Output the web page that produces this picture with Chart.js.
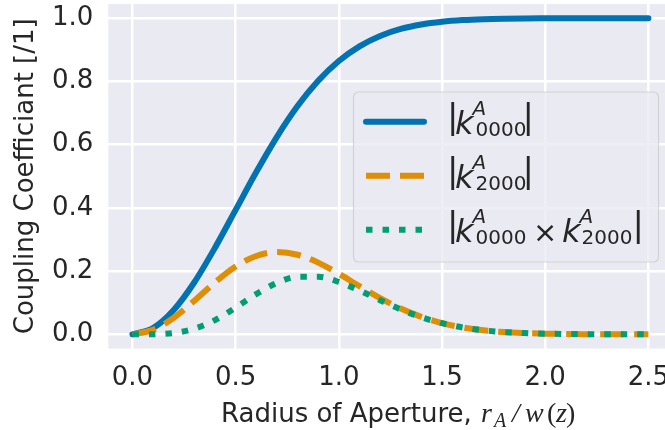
<!DOCTYPE html>
<html>
<head>
<meta charset="utf-8">
<script src="https://cdn.jsdelivr.net/npm/chart.js@4.4.0/dist/chart.umd.min.js"></script>
<style>
  body { margin: 0; background: #fff; }
  #wrap { width: 665px; height: 430px; overflow: hidden; }
</style>
</head>
<body>
<div id="wrap"><canvas id="cChart" width="675" height="430"></canvas></div>
<script>
// radius of aperture r_A / w(z)
const radius = [0.0, 0.1, 0.2, 0.3, 0.4, 0.5, 0.6, 0.7, 0.8, 0.9, 1.0, 1.1, 1.2,
    1.3, 1.4, 1.5, 1.6, 1.7, 1.8, 1.9, 2.0, 2.1, 2.2, 2.3, 2.4, 2.5];
const k0000 = [0, 0.0198, 0.0769, 0.1647, 0.2739, 0.3935, 0.5132, 0.6247, 0.7220,
    0.8021, 0.8647, 0.9111, 0.9439, 0.9660, 0.9802, 0.9889, 0.9940, 0.9969, 0.9985,
    0.9993, 0.9997, 0.9999, 0.9999, 1.0, 1.0, 1.0];
const k2000 = [0, 0.0139, 0.0522, 0.1063, 0.1643, 0.2144, 0.2478, 0.2601, 0.2517,
    0.2267, 0.1914, 0.1522, 0.1143, 0.0814, 0.0550, 0.0354, 0.0216, 0.0126, 0.0070,
    0.0037, 0.0019, 0.0009, 0.0004, 0.0002, 0.0001, 0.0];
const kProduct = [0, 0.0003, 0.0040, 0.0175, 0.0450, 0.0844, 0.1272, 0.1625, 0.1817,
    0.1818, 0.1655, 0.1386, 0.1079, 0.0786, 0.0539, 0.0350, 0.0215, 0.0126, 0.0070,
    0.0037, 0.0019, 0.0009, 0.0004, 0.0002, 0.0001, 0.0];

const BLUE = '#0173b2', ORANGE = '#de8f05', GREEN = '#029e73';
const TEXT = '#262626';
const SANS = 'DejaVu Sans';

function pts(ys) {
    return radius.map((x, i) => ({x: x, y: ys[i]}));
}

// pieces of mathtext: [text, x, dy, font]
function drawPieces(ctx, pieces, y) {
    ctx.fillStyle = TEXT;
    ctx.textBaseline = 'alphabetic';
    ctx.textAlign = 'left';
    pieces.forEach(p => {
        ctx.font = p[3];
        ctx.fillText(p[0], p[1], y + p[2]);
    });
}

const bar = '34px ' + SANS;
const big = '29px ' + SANS, bigIt = 'oblique 32px ' + SANS;
const sm = '20px ' + SANS, smIt = 'oblique 20px ' + SANS;

const legendRows = [
    {color: BLUE, dash: [], cap: 'round', base: 134, pieces: [
        ['|', 447, -6, bar], ['k', 455, 0, bigIt], ['A', 472.5, -19.3, smIt],
        ['0000', 475.5, 1.5, sm], ['|', 522.5, -6, bar]]},
    {color: ORANGE, dash: [24, 10], cap: 'butt', base: 188, pieces: [
        ['|', 447, -6, bar], ['k', 455, 0, bigIt], ['A', 472.5, -19.3, smIt],
        ['2000', 475.5, 1.5, sm], ['|', 522.5, -6, bar]]},
    {color: GREEN, dash: [6.5, 10], cap: 'butt', base: 242, pieces: [
        ['|', 447, -6, bar], ['k', 455, 0, bigIt], ['A', 472.5, -19.3, smIt],
        ['0000', 475.5, 1.5, sm], ['\u00d7', 533, 0, big], ['k', 562, 0, bigIt],
        ['A', 579.5, -19.3, smIt], ['2000', 581.5, 1.5, sm], ['|', 632.5, -6, bar]]}
];

const extras = {
    id: 'extras',
    afterDraw(chart) {
        const ctx = chart.ctx;
        ctx.save();
        // legend frame
        ctx.beginPath();
        ctx.roundRect(353.5, 92, 305, 170, 5);
        ctx.fillStyle = 'rgba(234,234,242,0.8)';
        ctx.fill();
        ctx.strokeStyle = 'rgba(204,204,204,0.8)';
        ctx.lineWidth = 1.2;
        ctx.stroke();
        legendRows.forEach(r => {
            ctx.beginPath();
            ctx.setLineDash(r.dash);
            ctx.lineCap = r.cap;
            ctx.lineWidth = 6;
            ctx.strokeStyle = r.color;
            ctx.moveTo(366, r.base - 12.3);
            ctx.lineTo(424, r.base - 12.3);
            ctx.stroke();
            ctx.setLineDash([]);
            drawPieces(ctx, r.pieces, r.base);
        });
        // x axis label with math part
        const serifIt = 'italic 28px "Liberation Serif"';
        const serif = '28px "Liberation Serif"';
        drawPieces(ctx, [
            ['Radius of Aperture,', 221, 0, '26px ' + SANS],
            ['r', 481, 0, serifIt], ['A', 494, 5, 'italic 20px "Liberation Serif"'],
            ['/', 512, 0, serifIt], ['w', 525, 0, serifIt],
            ['(', 547, 0, serif], ['z', 556, 0, serifIt],
            [')', 566, 0, serif]], 421.5);
        ctx.restore();
    }
};

const ctx2 = document.getElementById('cChart').getContext('2d');
const cChart = new Chart(ctx2, {
    type: 'line',
    data: {
        datasets: [{
            label: '|k0000|',
            data: pts(k0000),
            borderColor: BLUE,
            borderWidth: 6,
            borderCapStyle: 'round',
            order: 2
        }, {
            label: '|k2000|',
            data: pts(k2000),
            borderColor: ORANGE,
            borderWidth: 6,
            borderDash: [24, 10],
            order: 1
        }, {
            label: '|k0000 x k2000|',
            data: pts(kProduct),
            borderColor: GREEN,
            borderWidth: 6,
            borderDash: [6.5, 10],
            order: 0
        }]
    },
    options: {
        responsive: false,
        animation: false,
        layout: {padding: {top: 4, left: 0, right: 1, bottom: 0}},
        elements: {
            point: {radius: 0},
            line: {cubicInterpolationMode: 'monotone', fill: false}
        },
        plugins: {legend: {display: false}, tooltip: {enabled: false}},
        scales: {
            x: {
                type: 'linear',
                min: -0.117,
                max: 2.624,
                grid: {color: '#ffffff', lineWidth: 2.5, drawTicks: false},
                border: {display: false},
                ticks: {
                    stepSize: 0.5, includeBounds: false, padding: 14,
                    color: TEXT, font: {family: SANS, size: 26},
                    callback: v => v.toFixed(1)
                },
                afterFit: s => { s.height = 81.5; s.paddingLeft = 0; s.paddingRight = 0; }
            },
            y: {
                min: -0.045,
                max: 1.045,
                grid: {color: '#ffffff', lineWidth: 2.5, drawTicks: false},
                border: {display: false},
                ticks: {
                    stepSize: 0.2, includeBounds: false, padding: 15,
                    color: TEXT, font: {family: SANS, size: 26},
                    callback: v => v.toFixed(1)
                },
                title: {
                    display: true, text: 'Coupling Coefficiant [/1]', color: TEXT,
                    font: {family: SANS, size: 26}, padding: {top: 11, bottom: 0}
                },
                afterFit: s => { s.width = 108.3; s.paddingTop = 0; s.paddingBottom = 0; }
            }
        }
    },
    plugins: [{
        id: 'bg',
        beforeDraw(chart) {
            const a = chart.chartArea;
            chart.ctx.save();
            chart.ctx.fillStyle = '#eaeaf2';
            chart.ctx.fillRect(a.left, a.top, a.right - a.left, a.bottom - a.top);
            chart.ctx.restore();
        }
    }, extras]
});
</script>
</body>
</html>
